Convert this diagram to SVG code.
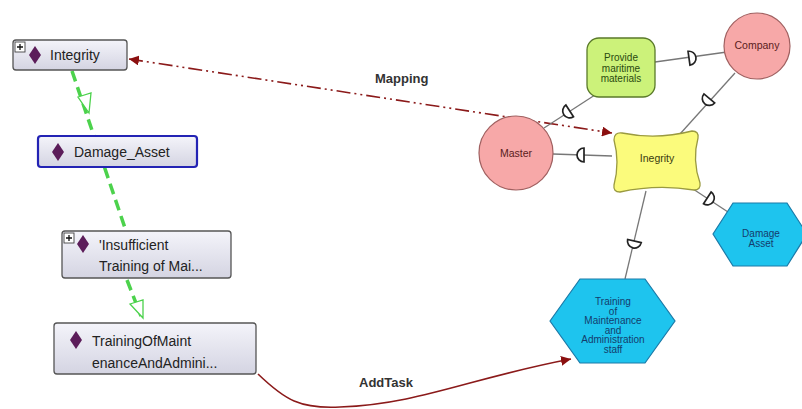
<svg xmlns="http://www.w3.org/2000/svg" width="802" height="409" viewBox="0 0 802 409">
<defs>
<linearGradient id="boxg" x1="0" y1="0" x2="0" y2="1">
<stop offset="0" stop-color="#f4f4fa"/>
<stop offset="1" stop-color="#d4d4e2"/>
</linearGradient>
<marker id="redArr" viewBox="0 0 10 10" refX="10" refY="5" markerWidth="10" markerHeight="10" orient="auto-start-reverse" markerUnits="userSpaceOnUse">
<path d="M0,0 L10,5 L0,10 Z" fill="#8b1010"/>
</marker>
</defs>
<style>
.box{fill:url(#boxg);stroke:#555;stroke-width:1.3}
.sel{fill:url(#boxg);stroke:#2323b4;stroke-width:2.2}
.lbl{font-family:"Liberation Sans",Arial,sans-serif;font-size:14px;fill:#222}
.dia{fill:#5c1d5a}
.plus{fill:#fff;stroke:#444;stroke-width:0.9}
.pl{stroke:#111;stroke-width:1.3}
.small{font-family:"Liberation Sans",Arial,sans-serif;font-size:10.5px;text-anchor:middle}
.pv{font-family:"Liberation Sans",Arial,sans-serif;font-size:10px;text-anchor:middle;fill:#2a4a10}
.hex{font-family:"Liberation Sans",Arial,sans-serif;font-size:10px;text-anchor:middle;fill:#143c6c}
.edge{font-family:"Liberation Sans",Arial,sans-serif;font-size:13px;font-weight:bold;fill:#333}
.link{stroke:#777;stroke-width:1.3;fill:none}
.dsym{fill:#fff;stroke:#222;stroke-width:1.7}
.green{stroke:#4cd24c;stroke-width:3.5;stroke-dasharray:11 6;fill:none}
.tri{fill:#fff;stroke:#4cd24c;stroke-width:1.3}
</style>

<g id="connectors">
<path class="green" d="M72,71 L126,231"/>
<path class="green" d="M127,280 L141,316"/>
<path class="tri" d="M78,97 L91,93 L89,113 Z"/>
<path class="tri" d="M130,304 L143,300 L143,318 Z"/>
<path d="M129,59 L612,133" stroke="#8b1a1a" stroke-width="1.6" stroke-dasharray="14 4 2 4 2 4" fill="none" marker-start="url(#redArr)" marker-end="url(#redArr)"/>
<text class="edge" x="375" y="83">Mapping</text>
<path d="M258,374 C285,400 300,409 340,407 C420,404 470,378 571,359" stroke="#8b1a1a" stroke-width="1.6" fill="none" marker-end="url(#redArr)"/>
<text class="edge" x="359" y="387">AddTask</text>
<path class="link" d="M655,62 L727,52"/>
<path class="link" d="M735,73 L680,134"/>
<path class="link" d="M544,128 L598,93"/>
<path class="link" d="M553,154 L612,156"/>
<path class="link" d="M690,187 L728,212"/>
<path class="link" d="M646,191 L625,279"/>
<g class="dsym">
<path transform="translate(691,58) rotate(-8)" d="M-2,-7 L-2,7 A7,7 0 0 0 -2,-7 Z"/>
<path transform="translate(708,100) rotate(130)" d="M-2,-7 L-2,7 A7,7 0 0 0 -2,-7 Z"/>
<path transform="translate(568,112) rotate(147)" d="M-2,-7 L-2,7 A7,7 0 0 0 -2,-7 Z"/>
<path transform="translate(582,155) rotate(180)" d="M-2,-7 L-2,7 A7,7 0 0 0 -2,-7 Z"/>
<path transform="translate(709,199) rotate(33)" d="M-2,-7 L-2,7 A7,7 0 0 0 -2,-7 Z"/>
<path transform="translate(634,243) rotate(103)" d="M-2,-7 L-2,7 A7,7 0 0 0 -2,-7 Z"/>
</g>
</g>

<g id="n-integrity">
<rect class="box" x="13" y="40" width="114" height="30" rx="3"/>
<rect class="plus" x="15" y="42" width="10" height="10"/>
<path class="pl" d="M17,47 H23 M20,44 V50"/>
<path class="dia" d="M35,46 L41,55 L35,64 L29,55 Z"/>
<text class="lbl" x="50" y="60">Integrity</text>
</g>

<g id="n-damage-asset">
<rect class="sel" x="38" y="136" width="159" height="31" rx="3"/>
<path class="dia" d="M58,143 L64,152 L58,161 L52,152 Z"/>
<text class="lbl" x="74" y="157">Damage_Asset</text>
</g>

<g id="n-insufficient">
<rect class="box" x="62" y="231" width="169" height="47" rx="3"/>
<rect class="plus" x="64" y="233" width="10" height="10"/>
<path class="pl" d="M66,238 H72 M69,235 V241"/>
<path class="dia" d="M83,235 L89,244 L83,253 L77,244 Z"/>
<text class="lbl" x="99" y="250">'Insufficient</text>
<text class="lbl" x="99" y="271">Training of Mai...</text>
</g>

<g id="n-training-of-maint">
<rect class="box" x="54" y="323" width="202" height="51" rx="3"/>
<path class="dia" d="M76,331 L82,340 L76,349 L70,340 Z"/>
<text class="lbl" x="92" y="346">TrainingOfMaint</text>
<text class="lbl" x="92" y="368">enanceAndAdmini...</text>
</g>

<g id="n-company">
<circle cx="757" cy="46" r="33" fill="#f7a8a8" stroke="#a06060" stroke-width="1.2"/>
<text class="small" x="757" y="49" fill="#5a2020">Company</text>
</g>

<g id="n-provide">
<rect x="587" y="38" width="68" height="59" rx="12" fill="#ccf27a" stroke="#5a7a2a" stroke-width="1.3"/>
<text class="pv" x="621" y="61">Provide</text>
<text class="pv" x="621" y="71.5">maritime</text>
<text class="pv" x="621" y="82">materials</text>
</g>

<g id="n-master">
<circle cx="516" cy="153" r="37" fill="#f7a8a8" stroke="#a06060" stroke-width="1.2"/>
<text class="small" x="516" y="157" fill="#5a2020">Master</text>
</g>

<g id="n-inegrity">
<path d="M622,133 Q657,140 692,131 Q699,131 698,138 Q692,160 700,183 Q701,190 694,190 Q657,184 620,192 Q613,192 614,185 Q620,162 614,140 Q614,132 622,133 Z" fill="#fbfb7c" stroke="#9a9a40" stroke-width="1.3"/>
<text class="small" x="657" y="162" fill="#3a3a10">Inegrity</text>
</g>

<g id="n-damage-hex">
<path d="M713,234 L733,203 L787,203 L807,234 L787,266 L733,266 Z" fill="#1ec4ee" stroke="#1a7aa8" stroke-width="1.2"/>
<text class="hex" x="761" y="237">Damage</text>
<text class="hex" x="761" y="247">Asset</text>
</g>

<g id="n-training-hex">
<path d="M550,321 L580,279 L645,279 L675,321 L645,363 L580,363 Z" fill="#1ec4ee" stroke="#1a7aa8" stroke-width="1.2"/>
<text class="hex" x="613" y="305">Training</text>
<text class="hex" x="613" y="314.6">of</text>
<text class="hex" x="613" y="324.2">Maintenance</text>
<text class="hex" x="613" y="333.8">and</text>
<text class="hex" x="613" y="343.4">Administration</text>
<text class="hex" x="613" y="353">staff</text>
</g>
</svg>
